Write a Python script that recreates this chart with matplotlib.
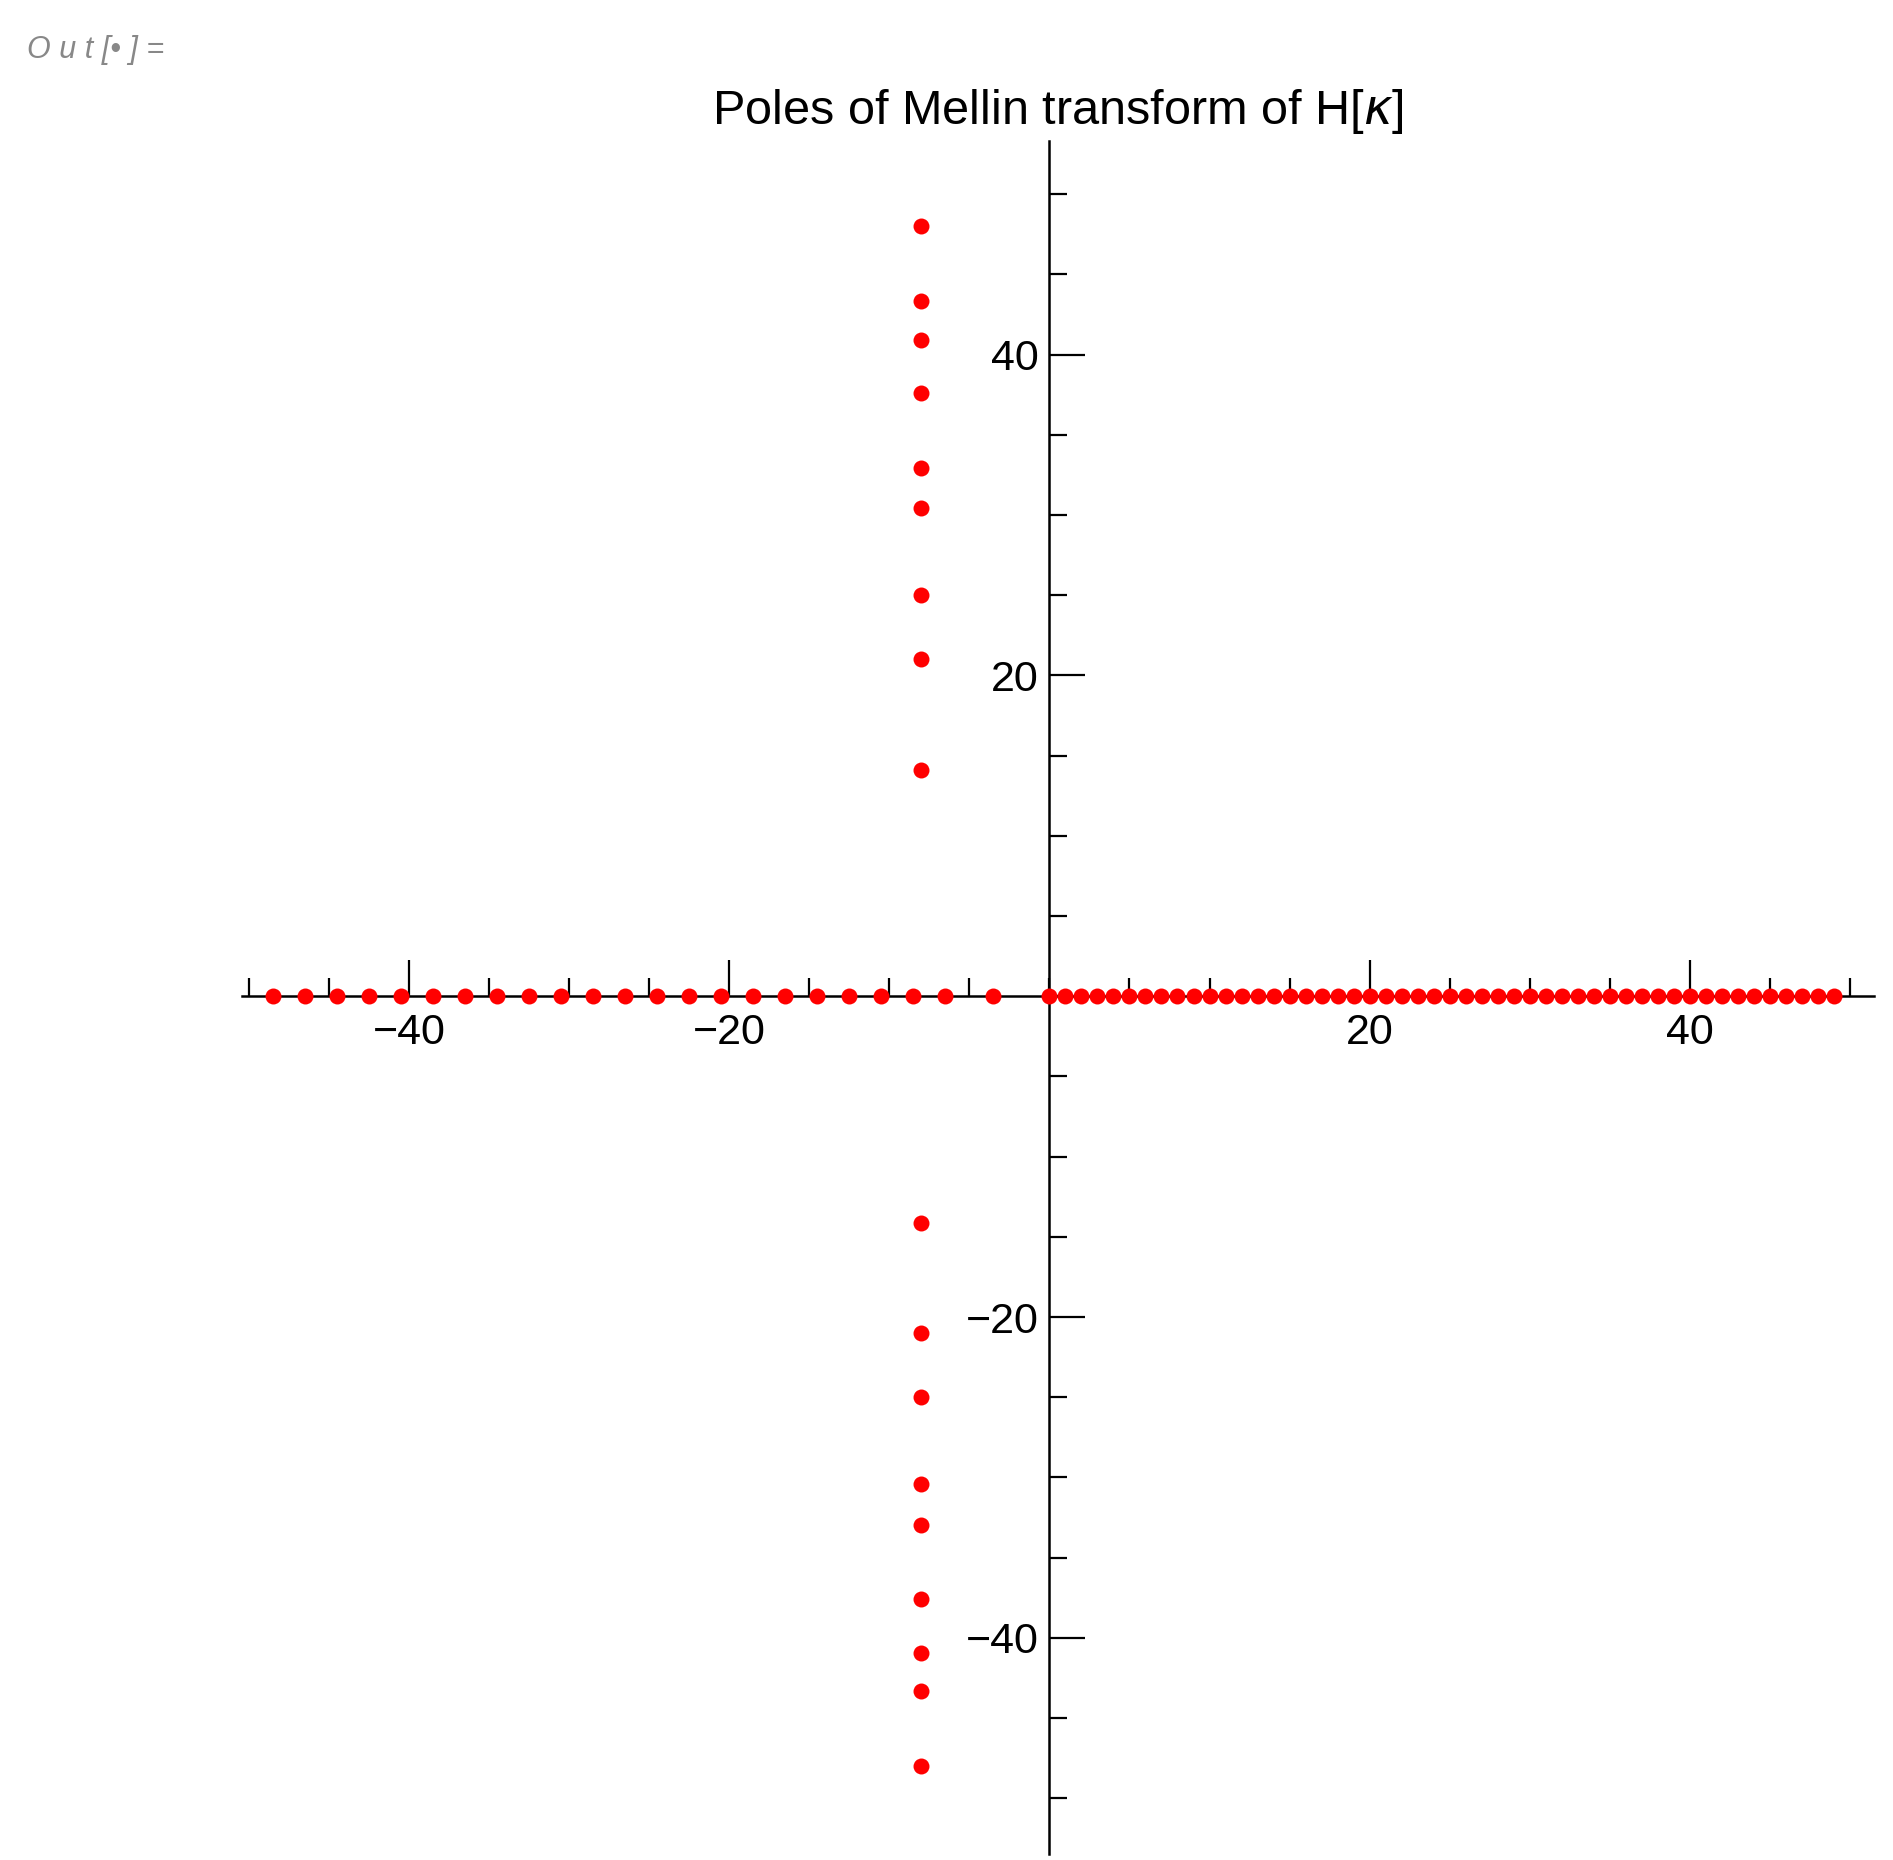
import matplotlib.pyplot as plt
import numpy as np
from matplotlib.ticker import MultipleLocator

plt.rcParams['font.family'] = ['Liberation Sans', 'DejaVu Sans']

# poles on the real axis
neg_x = [-48.5, -46.5, -44.5, -42.5, -40.5, -38.5, -36.5, -34.5, -32.5, -30.5,
         -28.5, -26.5, -24.5, -22.5, -20.5, -18.5, -16.5, -14.5, -12.5, -10.5,
         -8.5, -6.5, -3.5]
pos_x = list(range(0, 50))
# poles on the line Re = -8 (zeta zeros)
line_re = -8.0
zeta_im = [14.13, 21.02, 25.01, 30.42, 32.94, 37.59, 40.92, 43.33, 48.01]

real_x = np.array(neg_x + pos_x, dtype=float)
real_y = np.zeros_like(real_x)
cx = np.full(2 * len(zeta_im), line_re)
cy = np.array(zeta_im + [-v for v in zeta_im])

fig = plt.figure(figsize=(18.93, 18.60), dpi=100)
ax = fig.add_axes([0.128, 0.003, 0.862, 0.921])

ax.plot(real_x, real_y, 'o', color='#ff0000', ms=11.5, mew=0, clip_on=False, zorder=3)
ax.plot(cx, cy, 'o', color='#ff0000', ms=11.5, mew=0, clip_on=False, zorder=3)

ax.set_xlim(-50.4, 51.5)
ax.set_ylim(-53.5, 53.3)

for s in ['top', 'right']:
    ax.spines[s].set_visible(False)
ax.spines['left'].set_position(('data', 0))
ax.spines['bottom'].set_position(('data', 0))
ax.spines['left'].set_linewidth(1.8)
ax.spines['bottom'].set_linewidth(1.8)

ax.xaxis.set_minor_locator(MultipleLocator(5))
ax.yaxis.set_minor_locator(MultipleLocator(5))
ax.set_xticks([-40, -20, 20, 40])
ax.set_yticks([-40, -20, 20, 40])

ax.tick_params(which='major', direction='in', length=26, width=1.6, labelsize=31)
ax.tick_params(axis='x', which='major', pad=12)
ax.tick_params(axis='y', which='major', pad=8)
ax.tick_params(which='minor', direction='in', length=13, width=1.6)

fig.text(0.559, 0.94, 'Poles of Mellin transform of H[$\\kappa$]', ha='center', va='center', fontsize=35)
fig.text(0.014, 0.973, 'O u t [\u2022 ] =', ha='left', va='center', fontsize=22, color='#888888', style='italic')

fig.savefig('out.png', dpi=100)
